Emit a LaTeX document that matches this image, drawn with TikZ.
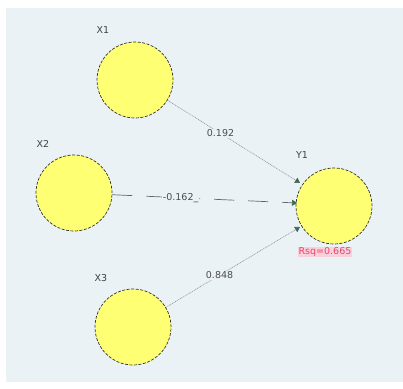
\documentclass[tikz,border=0pt]{standalone}
\usepackage{fontspec}
\setmainfont{DejaVu Sans}
\usetikzlibrary{arrows.meta}
\definecolor{bgblue}{HTML}{EAF2F5}
\definecolor{latfill}{HTML}{FFFF73}
\definecolor{pathgray}{HTML}{8C9496}
\definecolor{tipgreen}{HTML}{3F6B50}
\definecolor{rsqred}{HTML}{E8466E}
\tikzset{
  latent/.style={circle, draw=black!80, fill=latfill, dashed, dash pattern=on 3pt off 1.5pt, line width=0.7pt, minimum size=76pt, inner sep=0pt},
  varname/.style={font=\fontsize{9.5}{10}\selectfont, text=black!75, inner sep=1pt},
  coef/.style={font=\fontsize{9.5}{10}\selectfont, text=black!70, inner sep=1pt, fill=bgblue},
  pathline/.style={draw=pathgray, line width=0.6pt, dash pattern=on 1pt off 0.8pt, -{Triangle[length=5pt,width=6pt,fill=tipgreen,color=tipgreen]}},
  negline/.style={draw=black!60, line width=0.7pt, dash pattern=on 20pt off 14pt, -{Triangle[length=5pt,width=6pt,fill=tipgreen,color=tipgreen]}}
}
\begin{document}
\begin{tikzpicture}[x=1pt,y=-1pt]
\useasboundingbox (0,0) rectangle (403,388);
\fill[white] (0,0) rectangle (403,388);
\fill[bgblue] (6,8) rectangle (403,382);
% latent variables
\node[latent] (x1) at (135,80) {};
\node[latent] (x2) at (74,193) {};
\node[latent] (x3) at (133,327) {};
\node[latent] (y1) at (334,206) {};
% variable names
\node[varname] (nx1) at (103,30) {X1};
\node[varname] (nx2) at (43,144) {X2};
\node[varname] (nx3) at (101,278) {X3};
\node[varname] (ny1) at (302,155) {Y1};
\node[font=\fontsize{9.5}{10}\selectfont, text=rsqred, fill=rsqred!25, inner sep=0.5pt] (rsq) at (325,252) {Rsq=0.665};
% structural paths
\coordinate (t1) at (300,183);
\coordinate (t2) at (297,203);
\coordinate (t3) at (300,227);
\draw[pathline] (x1) -- (t1) node[coef, pos=0.4] {0.192};
\draw[negline] (x2) -- (t2) node[coef, pos=0.37] {-0.162\_};
\draw[pathline] (x3) -- (t3) node[coef, pos=0.4] {0.848};
\end{tikzpicture}
\end{document}
